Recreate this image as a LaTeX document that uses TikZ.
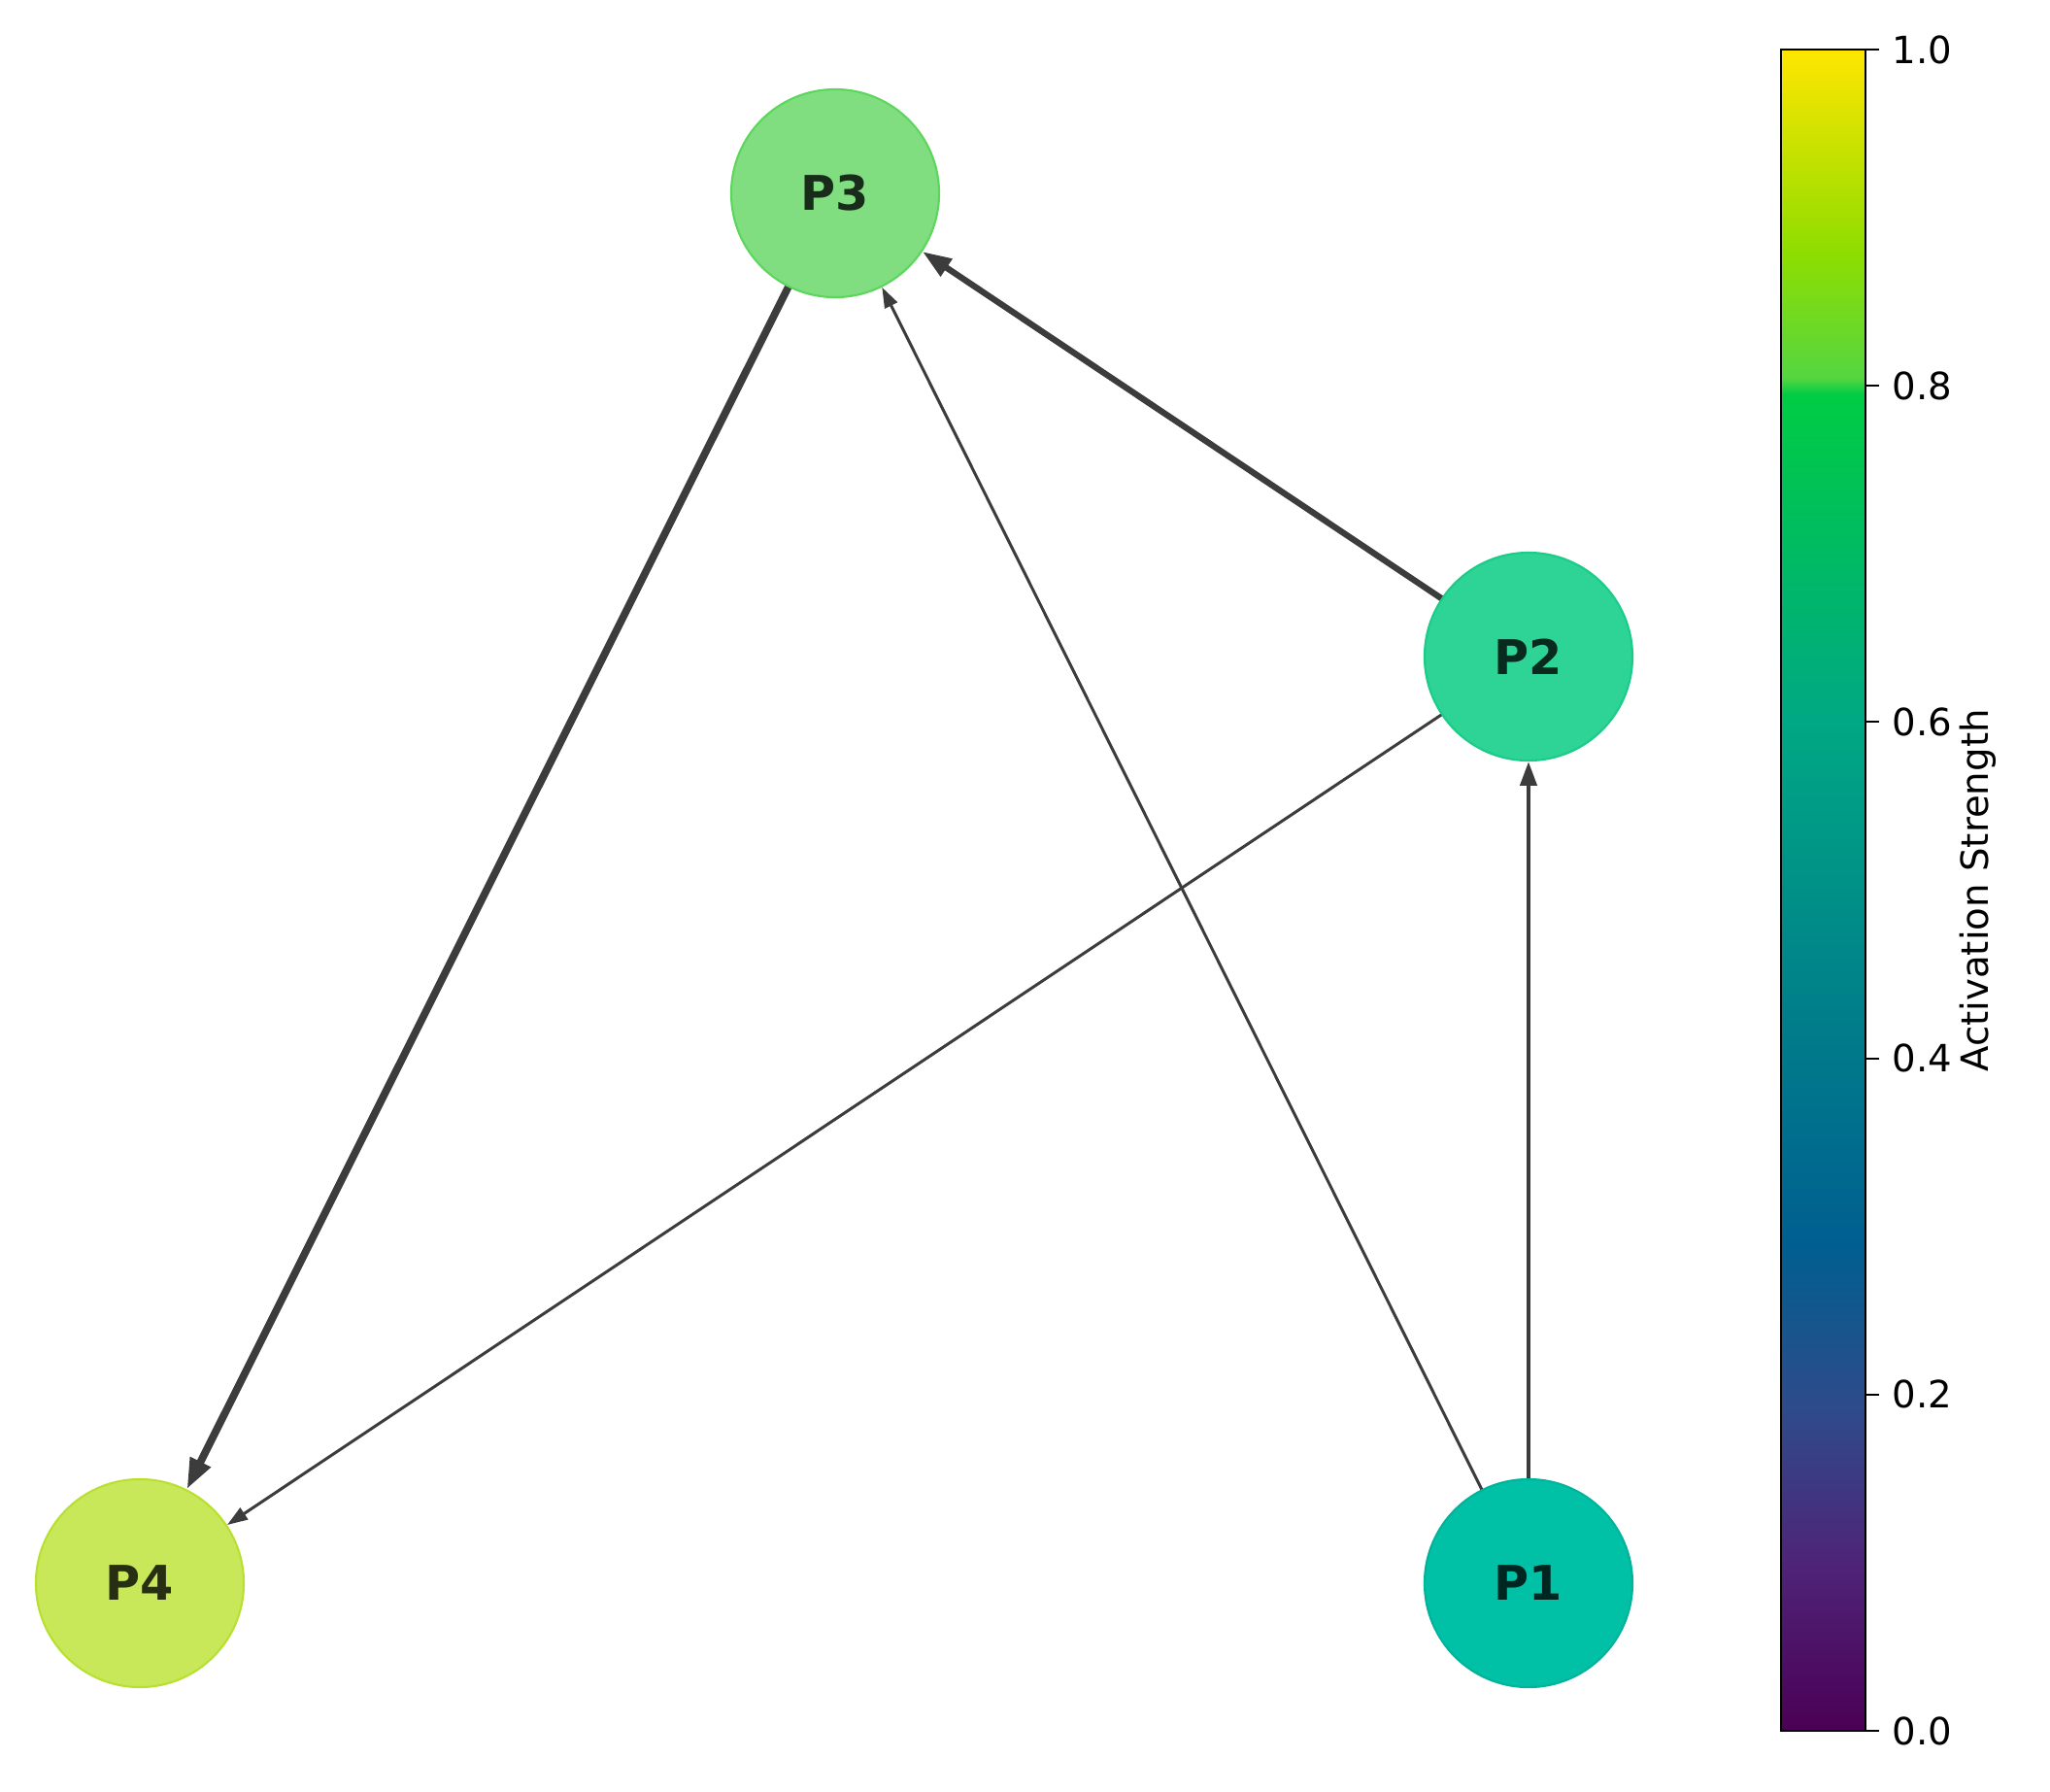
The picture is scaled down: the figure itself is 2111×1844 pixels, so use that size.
\documentclass[tikz,border=0pt]{standalone}
\usepackage{fontspec}
\setmainfont{DejaVu Sans}
\usetikzlibrary{arrows.meta}

\definecolor{nodeA}{HTML}{00C0A5}
\definecolor{nodeB}{HTML}{2ED396}
\definecolor{nodeC}{HTML}{80DD80}
\definecolor{nodeD}{HTML}{C8E85A}
\definecolor{edgeA}{HTML}{00B39A}
\definecolor{edgeB}{HTML}{1ACC88}
\definecolor{edgeC}{HTML}{5CD65C}
\definecolor{edgeD}{HTML}{B8E030}
\definecolor{link}{HTML}{3C3C3C}

\definecolor{cbA}{HTML}{4B0055}
\definecolor{cbB}{HTML}{4E2478}
\definecolor{cbC}{HTML}{2F4A8A}
\definecolor{cbD}{HTML}{005F90}
\definecolor{cbE}{HTML}{007D8A}
\definecolor{cbF}{HTML}{00A884}
\definecolor{cbG}{HTML}{00CC44}
\definecolor{cbH}{HTML}{55D640}
\definecolor{cbI}{HTML}{8FDD00}
\definecolor{cbJ}{HTML}{FFE600}

\begin{document}
\begin{tikzpicture}[x=0.01cm, y=-0.01cm,
    place/.style={circle, minimum size=2.14cm, inner sep=0pt, line width=0.6pt,
      font=\fontsize{14}{16}\selectfont\bfseries, text=black, text opacity=0.8},
    strong/.style={-{Triangle[length=9pt, width=6.2pt]}, line width=2.2pt, draw=link},
    medium/.style={-{Triangle[length=8.5pt, width=5.8pt]}, line width=1.8pt, draw=link},
    light/.style={-{Triangle[length=7pt, width=4.8pt]}, line width=1.2pt, draw=link},
    faint/.style={-{Triangle[length=6pt, width=4pt]}, line width=0.85pt, draw=link},
    ticklabel/.style={anchor=west, inner sep=0pt, font=\fontsize{11}{13}\selectfont}]

  \useasboundingbox (0,0) rectangle (2111,1844);

  % nodes
  \node[place, fill=nodeA, draw=edgeA] (p1) at (1574,1630) {P1};
  \node[place, fill=nodeB, draw=edgeB] (p2) at (1574,676) {P2};
  \node[place, fill=nodeC, draw=edgeC] (p3) at (860,199) {P3};
  \node[place, fill=nodeD, draw=edgeD] (p4) at (144,1630) {P4};

  % links
  \draw[strong] (p3) -- (p4);
  \draw[medium] (p2) -- (p3);
  \draw[light] (p1) -- (p2);
  \draw[faint] (p1) -- (p3);
  \draw[faint] (p2) -- (p4);

  % colour bar
  \foreach \a/\b/\ca/\cb in {0/0.1/cbA/cbB, 0.1/0.19/cbB/cbC, 0.19/0.29/cbC/cbD,
      0.29/0.42/cbD/cbE, 0.42/0.6/cbE/cbF, 0.6/0.795/cbF/cbG, 0.795/0.805/cbG/cbH,
      0.805/0.88/cbH/cbI, 0.88/1/cbI/cbJ} {
    \shade[bottom color=\ca, top color=\cb] (1834,{1782-\a*1731}) rectangle (1921,{1782-\b*1731+0.5});
  }
  \draw[line width=0.6pt] (1834,51) rectangle (1921,1782);

  \foreach \v in {0.0,0.2,0.4,0.6,0.8,1.0} {
    \draw[line width=0.6pt] (1921,{1782-\v*1731}) -- (1935,{1782-\v*1731});
    \node[ticklabel] (tick\v) at (1948,{1782-\v*1731}) {\v};
  }

  \node[rotate=90, font=\fontsize{11}{13}\selectfont] (cbtitle) at (2037,917) {Activation Strength};

\end{tikzpicture}
\end{document}
